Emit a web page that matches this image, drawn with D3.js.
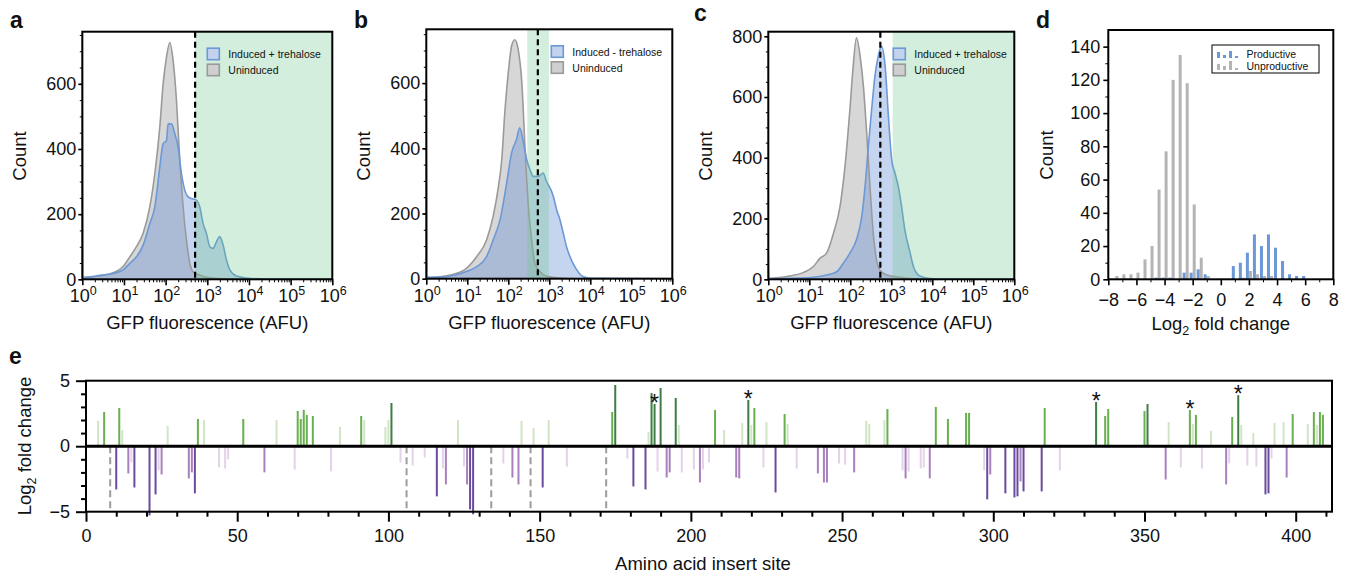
<!DOCTYPE html>
<html>
<head>
<meta charset="utf-8">
<script src="https://cdn.jsdelivr.net/npm/d3@7"></script>
<style>
  body { margin: 0; background: #fff; }
  text { font-family: "Liberation Sans", Arial, Helvetica, sans-serif; fill: #111; }
</style>
</head>
<body>
<svg id="chart"></svg>
<script>
// figure size
const width = 1350;
const height = 574;

const svg = d3.select("#chart")
  .attr("width", width)
  .attr("height", height);

// ---- panels a-c : flow cytometry histograms (log10 AFU, count) ----
const aGrayLog = [0, 0.1, 0.42, 0.74, 0.98, 1.14, 1.3, 1.46, 1.62, 1.74, 1.86, 1.94, 2.02, 2.1, 2.18, 2.26, 2.34, 2.42, 2.5, 2.58, 2.66, 2.82, 2.98, 3.3, 3.6, 6];
const aGrayCount = [2, 6, 10, 20, 39, 69, 100, 141, 222, 324, 467, 600, 681, 727, 671, 549, 365, 222, 120, 49, 23, 13, 6, 2, 0, 0];
const aBlueLog = [0, 0.015, 0.1, 0.42, 0.74, 0.98, 1.14, 1.3, 1.46, 1.62, 1.74, 1.86, 1.94, 2.02, 2.06, 2.14, 2.22, 2.3, 2.38, 2.46, 2.54, 2.62, 2.74, 2.82, 2.9, 2.98, 3.06, 3.14, 3.22, 3.3, 3.38, 3.46, 3.54, 3.7, 3.94, 4.42, 6];
const aBlueCount = [760, 8, 6, 12, 18, 29, 49, 69, 105, 171, 222, 345, 416, 426, 477, 477, 447, 406, 324, 273, 253, 248, 243, 222, 171, 141, 100, 95, 115, 131, 105, 59, 29, 10, 4, 1, 0];

const bGrayLog = [0, 0.17, 0.66, 0.98, 1.23, 1.47, 1.63, 1.76, 1.84, 1.92, 2.0, 2.08, 2.16, 2.24, 2.33, 2.41, 2.49, 2.57, 2.65, 2.77, 2.93, 3.26, 3.6, 6];
const bGrayCount = [2, 4, 14, 32, 68, 119, 191, 283, 365, 519, 632, 714, 733, 704, 601, 396, 222, 119, 47, 22, 8, 2, 0, 0];
const bBlueLog = [0, 0.015, 0.17, 0.66, 0.98, 1.23, 1.47, 1.63, 1.8, 1.96, 2.08, 2.2, 2.28, 2.37, 2.45, 2.53, 2.61, 2.73, 2.85, 2.93, 3.02, 3.1, 3.18, 3.26, 3.34, 3.42, 3.54, 3.67, 3.83, 4.07, 6];
const bBlueCount = [600, 6, 4, 10, 22, 37, 68, 119, 181, 293, 386, 427, 463, 417, 365, 334, 314, 314, 324, 299, 278, 252, 211, 181, 140, 98, 57, 27, 6, 1, 0];

const cGrayLog = [0, 0.12, 0.53, 0.85, 1.1, 1.26, 1.42, 1.59, 1.75, 1.87, 1.99, 2.07, 2.15, 2.24, 2.32, 2.4, 2.48, 2.56, 2.64, 2.72, 2.89, 3.21, 3.54, 3.9, 6];
const cGrayCount = [2, 4, 11, 22, 42, 69, 86, 152, 240, 371, 558, 701, 795, 734, 635, 481, 306, 152, 64, 31, 14, 7, 2, 0, 0];
const cBlueLog = [0, 0.015, 0.12, 0.69, 1.1, 1.42, 1.67, 1.83, 1.99, 2.15, 2.28, 2.36, 2.44, 2.52, 2.6, 2.68, 2.76, 2.85, 2.93, 3.01, 3.09, 3.17, 3.25, 3.33, 3.46, 3.54, 3.66, 3.86, 4.19, 6];
const cBlueCount = [90, 3, 2, 4, 7, 14, 25, 53, 86, 130, 207, 306, 437, 558, 668, 734, 767, 701, 536, 393, 349, 306, 240, 163, 86, 42, 14, 4, 1, 0];

const histYTicks = [0, 200, 400, 600];
const histYTicksC = [0, 200, 400, 600, 800];
const decades = [0, 1, 2, 3, 4, 5, 6];

// ---- panel d : log2 fold change histogram (bin centres, counts) ----
const dGrayBins = [-7.25, -6.75, -6.25, -5.75, -5.25, -4.75, -4.25, -3.75, -3.25, -2.75, -2.25, -1.75, -1.25, -0.75, 1.75, 2.25, 2.75, 3.25, 3.75];
const dGrayCount = [2, 3, 3, 4, 12, 20, 54, 77, 120, 135, 118, 45, 13, 2, 1, 5, 3, 2, 2];
const dBlueBins = [-4.75, -4.25, -3.75, -2.75, -2.25, -1.75, -1.25, 0.75, 1.25, 1.75, 2.25, 2.75, 3.25, 3.75, 4.25, 4.75, 5.25, 5.75];
const dBlueCount = [1, 1, 1, 4, 4, 6, 3, 8, 10, 16, 27, 20, 27, 19, 11, 3, 2, 2];
const dXTicks = [-8, -6, -4, -2, 0, 2, 4, 6, 8];
const dYTicks = [0, 20, 40, 60, 80, 100, 120, 140];

// ---- panel e : log2 fold change per insert site ----
// level: 0 = not significant (pale), 1 = significant, 2 = strong
const upSite = [4, 6, 11, 12, 27, 37, 39, 52, 63, 70, 71, 72, 73, 75, 84, 91, 92, 99, 100, 101, 123, 144, 148, 153, 174, 175, 186, 187, 188, 190, 195, 196, 208, 211, 217, 219, 220, 221, 225, 231, 232, 258, 259, 264, 265, 281, 285, 291, 292, 317, 334, 337, 338, 350, 351, 358, 365, 366, 367, 372, 379, 381, 382, 386, 393, 396, 399, 404, 406, 407, 408, 409];
const upValue = [1.93, 2.61, 2.92, 1.24, 1.55, 2.08, 2.0, 2.08, 2.0, 2.69, 2.08, 2.77, 2.39, 2.31, 1.47, 2.31, 2.0, 1.47, 2.0, 3.3, 2.0, 1.93, 1.4, 2.0, 2.61, 4.67, 1.09, 4.06, 3.22, 4.44, 3.68, 1.62, 2.77, 1.24, 1.78, 3.53, 1.62, 2.92, 1.85, 2.46, 1.7, 1.93, 1.7, 2.0, 2.84, 3.0, 2.08, 2.54, 2.54, 2.92, 3.38, 2.31, 2.84, 2.69, 3.22, 1.85, 2.77, 1.7, 2.39, 1.17, 2.23, 3.9, 1.62, 1.02, 1.78, 1.85, 2.46, 1.7, 2.61, 1.62, 2.61, 2.39];
const upLevel = [0, 1, 1, 0, 0, 1, 0, 1, 0, 1, 1, 1, 1, 1, 0, 1, 0, 0, 0, 2, 0, 0, 0, 0, 1, 2, 0, 2, 2, 2, 2, 0, 1, 0, 0, 2, 0, 1, 0, 1, 0, 0, 0, 0, 1, 1, 1, 1, 1, 1, 2, 1, 1, 1, 2, 0, 1, 0, 1, 0, 1, 2, 0, 0, 0, 0, 1, 0, 1, 0, 1, 1];

const downSite = [10, 14, 15, 16, 21, 23, 24, 25, 34, 35, 36, 44, 46, 47, 59, 69, 81, 104, 108, 112, 116, 118, 119, 125, 126, 127, 128, 138, 141, 143, 151, 159, 179, 181, 185, 189, 192, 193, 197, 201, 203, 204, 206, 215, 216, 224, 228, 235, 242, 244, 245, 249, 251, 254, 270, 271, 272, 276, 277, 279, 297, 298, 299, 304, 307, 308, 309, 310, 316, 322, 357, 362, 369, 377, 378, 384, 387, 390, 391, 392, 397];
const downValue = [-3.3, -2.08, -1.24, -3.15, -5.28, -3.68, -1.85, -2.16, -2.46, -2.0, -3.6, -1.62, -1.7, -1.0, -2.0, -1.78, -1.93, -1.24, -1.47, -0.86, -3.83, -1.7, -2.92, -1.55, -2.92, -4.82, -5.2, -1.32, -2.39, -2.92, -3.15, -1.55, -0.94, -3.07, -3.3, -1.93, -2.39, -2.0, -2.0, -1.78, -2.77, -1.78, -1.24, -2.39, -2.46, -1.62, -3.53, -1.7, -2.08, -2.77, -2.77, -1.32, -1.4, -2.0, -1.85, -2.46, -1.93, -1.7, -1.62, -2.46, -1.85, -4.06, -2.16, -3.6, -3.91, -3.83, -2.69, -3.45, -3.45, -1.85, -2.54, -1.62, -1.7, -2.92, -1.32, -1.47, -1.55, -3.68, -3.6, -0.94, -2.39];
const downLevel = [2, 1, 0, 2, 2, 2, 0, 1, 1, 1, 2, 0, 0, 0, 1, 0, 0, 0, 0, 0, 2, 0, 1, 0, 1, 2, 2, 0, 1, 1, 2, 0, 0, 2, 2, 0, 1, 1, 0, 0, 1, 0, 0, 1, 1, 0, 2, 0, 1, 1, 1, 0, 0, 1, 0, 1, 0, 0, 0, 1, 0, 2, 1, 2, 2, 2, 1, 2, 2, 0, 1, 0, 0, 1, 0, 0, 0, 2, 2, 0, 1];

const missingSites = [8, 106, 134, 147, 172];
const starSites = [188, 219, 334, 365, 381];
const eXTicks = [0, 50, 100, 150, 200, 250, 300, 350, 400];
const eYTicks = [-5, 0, 5];

// colours
const blueLine = "#6b98d6";
const blueFill = "rgba(96,138,210,0.36)";
const grayLine = "#9a9a9a";
const grayFill = "rgba(150,150,150,0.38)";
const gateFill = "rgba(110,200,140,0.3)";
const greens = ["#d0e5c6", "#68b04e", "#3f7d45"];
const purples = ["#e3d2e9", "#a880bd", "#6a4b9d"];

const TICK_FONT = 18;
const TITLE_FONT = 18.5;

function zipXY(xs, ys) {
  return xs.map((v, i) => [v, ys[i]]);
}

function panelLetter(letter, x, y) {
  svg.append("text")
    .attr("x", x).attr("y", y)
    .attr("font-size", 23).attr("font-weight", "bold")
    .text(letter);
}

function styleTicks(a) {
  a.selectAll("text").attr("font-size", TICK_FONT)
    .style("font-family", "'Liberation Sans', Arial, sans-serif");
}

// 繪製流式細胞直方圖
function histPanel(p) {
  const g = svg.append("g");
  const x = d3.scaleLog().domain([1, 1e6]).range([p.left, p.right]);
  const y = d3.scaleLinear().domain([0, p.yMax]).range([p.bottom, p.top]);

  const clipId = "clip-" + p.letter;
  svg.append("clipPath").attr("id", clipId)
    .append("rect")
    .attr("x", p.left).attr("y", p.top)
    .attr("width", p.right - p.left).attr("height", p.bottom - p.top);

  const plot = g.append("g").attr("clip-path", `url(#${clipId})`);

  const area = d3.area()
    .x(d => x(Math.pow(10, d[0])))
    .y0(y(0))
    .y1(d => y(d[1]))
    .curve(d3.curveMonotoneX);
  const line = d3.line()
    .x(d => x(Math.pow(10, d[0])))
    .y(d => y(d[1]))
    .curve(d3.curveMonotoneX);

  const gray = zipXY(p.grayLog, p.grayCount);
  const blue = zipXY(p.blueLog, p.blueCount);

  plot.append("path").attr("d", area(gray)).attr("fill", grayFill);
  plot.append("path").attr("d", area(blue)).attr("fill", blueFill);
  plot.append("path").attr("d", line(gray)).attr("fill", "none")
    .attr("stroke", grayLine).attr("stroke-width", 1.6);
  plot.append("path").attr("d", line(blue)).attr("fill", "none")
    .attr("stroke", blueLine).attr("stroke-width", 1.6);

  // gate region
  plot.append("rect")
    .attr("x", x(p.gate[0])).attr("y", p.top)
    .attr("width", x(p.gate[1]) - x(p.gate[0]))
    .attr("height", p.bottom - p.top)
    .attr("fill", gateFill);

  plot.append("line")
    .attr("x1", x(p.cut)).attr("x2", x(p.cut))
    .attr("y1", p.top).attr("y2", p.bottom)
    .attr("stroke", "#000").attr("stroke-width", 2.2)
    .attr("stroke-dasharray", "6,4");

  // axes
  const minorX = [];
  for (let k = 0; k < 6; k++) for (let m = 2; m <= 9; m++) minorX.push(m * Math.pow(10, k));

  g.append("g").attr("transform", `translate(0,${p.bottom})`)
    .call(d3.axisBottom(x).tickValues(minorX).tickSize(3).tickFormat(""))
    .call(a => a.select(".domain").remove());
  g.append("g").attr("transform", `translate(0,${p.bottom})`)
    .call(d3.axisBottom(x).tickValues(decades.map(k => Math.pow(10, k))).tickSize(6).tickFormat(""))
    .call(a => a.select(".domain").remove())
    .selectAll("line").attr("stroke-width", 1.6);

  decades.forEach(k => {
    const t = g.append("text")
      .attr("x", x(Math.pow(10, k)) + 1).attr("y", p.bottom + 23)
      .attr("text-anchor", "middle").attr("font-size", TICK_FONT);
    t.append("tspan").text("10");
    t.append("tspan").attr("dy", -7).attr("font-size", 12.5).text(k);
  });

  g.append("g").attr("transform", `translate(${p.left},0)`)
    .call(d3.axisLeft(y).tickValues(d3.range(0, p.yMax, 50)).tickSize(2.5).tickFormat(""))
    .call(a => a.select(".domain").remove());
  g.append("g").attr("transform", `translate(${p.left},0)`)
    .call(d3.axisLeft(y).tickValues(p.yTicks).tickSize(4).tickPadding(2))
    .call(a => a.select(".domain").remove())
    .call(a => a.selectAll("line").attr("stroke-width", 1.6))
    .call(styleTicks);

  g.append("rect")
    .attr("x", p.left).attr("y", p.top)
    .attr("width", p.right - p.left).attr("height", p.bottom - p.top)
    .attr("fill", "none").attr("stroke", "#000").attr("stroke-width", 2);

  // axis titles
  g.append("text")
    .attr("x", (p.left + p.right) / 2).attr("y", 329)
    .attr("text-anchor", "middle").attr("font-size", TITLE_FONT)
    .text("GFP fluorescence (AFU)");
  g.append("text")
    .attr("transform", `translate(${p.left - 56},156) rotate(-90)`)
    .attr("text-anchor", "middle").attr("font-size", TITLE_FONT)
    .text("Count");

  // legend
  const lx = p.left + 125, ly = p.top + 16.5;
  const items = [
    { label: p.legend, fill: "#c3d2ed", stroke: blueLine },
    { label: "Uninduced", fill: "#cfcfcf", stroke: grayLine }
  ];
  items.forEach((it, i) => {
    g.append("rect")
      .attr("x", lx).attr("y", ly + i * 16)
      .attr("width", 12).attr("height", 11.5)
      .attr("fill", it.fill).attr("stroke", it.stroke).attr("stroke-width", 1.6);
    g.append("text")
      .attr("x", lx + 21).attr("y", ly + i * 16 + 10)
      .attr("font-size", 10.5)
      .text(it.label);
  });

  panelLetter(p.letter, p.letterX, p.letterY);
}

histPanel({
  letter: "a", letterX: 10, letterY: 28,
  left: 82.3, right: 332.3, top: 31.7, bottom: 279.3, yMax: 760, yTicks: histYTicks,
  grayLog: aGrayLog, grayCount: aGrayCount, blueLog: aBlueLog, blueCount: aBlueCount,
  gate: [510, 1e6], cut: 510, legend: "Induced + trehalose"
});
histPanel({
  letter: "b", letterX: 354, letterY: 28,
  left: 426.3, right: 672.3, top: 29.3, bottom: 278.7, yMax: 765, yTicks: histYTicks,
  grayLog: bGrayLog, grayCount: bGrayCount, blueLog: bBlueLog, blueCount: bBlueCount,
  gate: [290, 980], cut: 525, legend: "Induced - trehalose"
});
histPanel({
  letter: "c", letterX: 694, letterY: 21,
  left: 768.3, right: 1014.3, top: 31.7, bottom: 279.3, yMax: 815, yTicks: histYTicksC,
  grayLog: cGrayLog, grayCount: cGrayCount, blueLog: cBlueLog, blueCount: cBlueCount,
  gate: [1080, 1e6], cut: 540, legend: "Induced + trehalose"
});

// ---- panel d ----
{
  const left = 1108.3, right = 1333.3, top = 30, bottom = 279.3;
  const g = svg.append("g");
  const x = d3.scaleLinear().domain([-8, 8]).range([left, right]);
  const y = d3.scaleLinear().domain([0, 150]).range([bottom, top]);
  const barW = 3;

  g.selectAll(".gbar")
    .data(zipXY(dGrayBins, dGrayCount))
    .join("rect")
    .attr("x", d => x(d[0] - 0.14) - barW / 2)
    .attr("y", d => y(d[1]))
    .attr("width", barW)
    .attr("height", d => y(0) - y(d[1]))
    .attr("fill", "#b4b4b4");
  g.selectAll(".bbar")
    .data(zipXY(dBlueBins, dBlueCount))
    .join("rect")
    .attr("x", d => x(d[0] + 0.14) - barW / 2)
    .attr("y", d => y(d[1]))
    .attr("width", barW)
    .attr("height", d => y(0) - y(d[1]))
    .attr("fill", "#6b98d6");

  g.append("g").attr("transform", `translate(0,${bottom})`)
    .call(d3.axisBottom(x).tickValues(d3.range(-7, 8, 2)).tickSize(3).tickFormat(""))
    .call(a => a.select(".domain").remove());
  g.append("g").attr("transform", `translate(0,${bottom})`)
    .call(d3.axisBottom(x).tickValues(dXTicks).tickSize(6).tickPadding(8).tickFormat(d3.format("d")))
    .call(a => a.select(".domain").remove())
    .call(a => a.selectAll("line").attr("stroke-width", 1.6))
    .call(styleTicks);

  g.append("g").attr("transform", `translate(${left},0)`)
    .call(d3.axisLeft(y).tickValues(d3.range(10, 150, 20)).tickSize(3).tickFormat(""))
    .call(a => a.select(".domain").remove());
  g.append("g").attr("transform", `translate(${left},0)`)
    .call(d3.axisLeft(y).tickValues(dYTicks).tickSize(5).tickPadding(3))
    .call(a => a.select(".domain").remove())
    .call(a => a.selectAll("line").attr("stroke-width", 1.6))
    .call(styleTicks);

  g.append("rect")
    .attr("x", left).attr("y", top)
    .attr("width", right - left).attr("height", bottom - top)
    .attr("fill", "none").attr("stroke", "#000").attr("stroke-width", 2);

  const xt = g.append("text")
    .attr("x", (left + right) / 2).attr("y", 330)
    .attr("text-anchor", "middle").attr("font-size", TITLE_FONT);
  xt.append("tspan").text("Log");
  xt.append("tspan").attr("dy", 5).attr("font-size", 12.5).text("2");
  xt.append("tspan").attr("dy", -5).text(" fold change");

  g.append("text")
    .attr("transform", `translate(1053,155) rotate(-90)`)
    .attr("text-anchor", "middle").attr("font-size", TITLE_FONT)
    .text("Count");

  // legend box
  const lx = 1212, ly = 45;
  g.append("rect").attr("x", lx).attr("y", ly).attr("width", 107).attr("height", 28)
    .attr("fill", "#fff").attr("stroke", "#000").attr("stroke-width", 1);
  const glyphs = [
    { h: [6, 3, 7, 2], color: "#6b98d6", label: "Productive", y: 58 },
    { h: [6, 4, 9, 2], color: "#b4b4b4", label: "Unproductive", y: 70 }
  ];
  glyphs.forEach(gl => {
    gl.h.forEach((hh, i) => {
      g.append("rect")
        .attr("x", lx + 5 + i * 6).attr("y", gl.y - hh)
        .attr("width", 3).attr("height", hh)
        .attr("fill", gl.color);
    });
    g.append("text").attr("x", lx + 34.5).attr("y", gl.y - 0.5)
      .attr("font-size", 10.5).style("fill", "#111").text(gl.label);
  });

  panelLetter("d", 1036, 28);
}

// ---- panel e ----
{
  const left = 86, right = 1332, top = 380.7, bottom = 511.7;
  const g = svg.append("g");
  const x = d3.scaleLinear().domain([0, 412]).range([left, right]);
  const y = d3.scaleLinear().domain([-5, 5]).range([bottom, top]);

  // missing sites (dashed)
  g.selectAll(".miss")
    .data(missingSites)
    .join("line")
    .attr("x1", d => x(d)).attr("x2", d => x(d))
    .attr("y1", y(0)).attr("y2", y(-5))
    .attr("stroke", "#9c9c9c").attr("stroke-width", 2)
    .attr("stroke-dasharray", "7,4");

  const up = upSite.map((s, i) => ({ s, v: upValue[i], l: upLevel[i] }));
  const down = downSite.map((s, i) => ({ s, v: downValue[i], l: downLevel[i] }));
  const barW = 2;

  g.selectAll(".up")
    .data(up)
    .join("rect")
    .attr("x", d => x(d.s) - barW / 2)
    .attr("y", d => y(d.v))
    .attr("width", barW)
    .attr("height", d => y(0) - y(d.v))
    .attr("fill", d => greens[d.l]);

  g.selectAll(".down")
    .data(down)
    .join("rect")
    .attr("x", d => x(d.s) - barW / 2)
    .attr("y", y(0))
    .attr("width", barW)
    .attr("height", d => y(d.v) - y(0))
    .attr("fill", d => purples[d.l]);

  // stars
  g.selectAll(".star")
    .data(starSites)
    .join("text")
    .attr("x", d => x(d))
    .attr("y", d => y(upValue[upSite.indexOf(d)]) + 7)
    .attr("text-anchor", "middle")
    .attr("font-size", 23)
    .text("*");

  g.append("line")
    .attr("x1", left).attr("x2", right)
    .attr("y1", y(0)).attr("y2", y(0))
    .attr("stroke", "#000").attr("stroke-width", 3);

  g.append("g").attr("transform", `translate(0,${bottom})`)
    .call(d3.axisBottom(x).tickValues(d3.range(10, 412, 10).filter(v => v % 50)).tickSize(5).tickFormat(""))
    .call(a => a.select(".domain").remove())
    .call(a => a.selectAll("line").attr("stroke-width", 2));
  g.append("g").attr("transform", `translate(0,${bottom})`)
    .call(d3.axisBottom(x).tickValues(eXTicks).tickSize(10).tickPadding(8))
    .call(a => a.select(".domain").remove())
    .call(a => a.selectAll("line").attr("stroke-width", 2))
    .call(styleTicks);

  g.append("g").attr("transform", `translate(${left},0)`)
    .call(d3.axisLeft(y).tickValues(d3.range(-4, 5).filter(v => v !== 0)).tickSize(5).tickFormat(""))
    .call(a => a.select(".domain").remove())
    .call(a => a.selectAll("line").attr("stroke-width", 2));
  g.append("g").attr("transform", `translate(${left},0)`)
    .call(d3.axisLeft(y).tickValues(eYTicks).tickSize(10).tickPadding(6))
    .call(a => a.select(".domain").remove())
    .call(a => a.selectAll("line").attr("stroke-width", 2))
    .call(styleTicks);

  g.append("rect")
    .attr("x", left).attr("y", top)
    .attr("width", right - left).attr("height", bottom - top)
    .attr("fill", "none").attr("stroke", "#000").attr("stroke-width", 2);

  g.append("text")
    .attr("x", (left + right) / 2 - 6).attr("y", 570)
    .attr("text-anchor", "middle").attr("font-size", TITLE_FONT)
    .text("Amino acid insert site");

  const yt = g.append("text")
    .attr("transform", `translate(31,446) rotate(-90)`)
    .attr("text-anchor", "middle").attr("font-size", TITLE_FONT);
  yt.append("tspan").text("Log");
  yt.append("tspan").attr("dy", 5).attr("font-size", 12.5).text("2");
  yt.append("tspan").attr("dy", -5).text(" fold change");

  panelLetter("e", 9, 364);
}
</script>
</body>
</html>
